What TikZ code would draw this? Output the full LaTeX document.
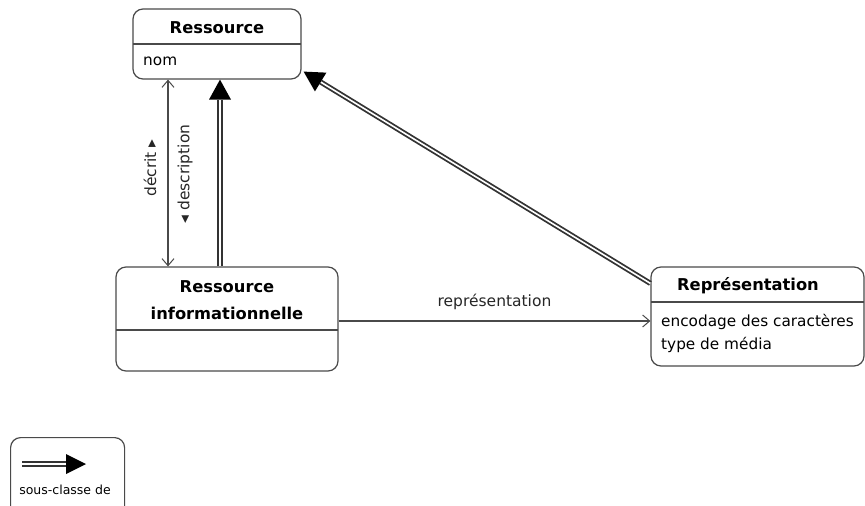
\documentclass[tikz,border=0pt]{standalone}
\usepackage{fontspec}
\setmainfont{DejaVu Sans}
\usetikzlibrary{arrows.meta}
\definecolor{trait}{HTML}{4A4A4A}
\tikzset{
  classe/.style={draw=trait, line width=1.2pt, rounded corners=10pt, fill=white},
  entete/.style={font=\fontsize{16.3}{27}\selectfont\bfseries, align=center, inner sep=0pt},
  attribut/.style={font=\fontsize{15.3}{17}\selectfont, anchor=west, inner sep=0pt},
  sousclasse/.style={draw=black!80, double=white, double distance=1.6pt, line width=1.8pt,
    -{Triangle[length=20pt,width=22pt,fill=black,line width=0pt]}},
  assoc/.style={draw=trait, line width=1.1pt},
  pointe/.tip={Straight Barb[length=7pt,width=12pt,line width=1pt]},
  etiquette/.style={font=\fontsize{15.5}{18}\selectfont, inner sep=0pt, text=black!85}
}
\begin{document}
\begin{tikzpicture}[x=1pt,y=-1pt]
  \useasboundingbox (0,0) rectangle (865,506);
  \clip (0,0) rectangle (865,506);

  % classes
  \node[classe, minimum width=168pt, minimum height=70pt] (ress) at (217,44) {};
  \node[entete] (ressT) at (217,28) {Ressource};
  \draw[trait, line width=1.2pt] (133,44) -- (301,44);
  \node[attribut] (ressA) at (143,61) {nom};

  \node[classe, minimum width=222pt, minimum height=104pt] (rinfo) at (227,319) {};
  \node[entete] (rinfoT) at (227,300) {Ressource\\informationnelle};
  \draw[trait, line width=1.2pt] (116,330) -- (338,330);

  \node[classe, minimum width=213pt, minimum height=99pt] (repr) at (757.5,316.5) {};
  \node[entete] (reprT) at (748,286) {Représentation};
  \draw[trait, line width=1.2pt] (651,302) -- (864,302);
  \node[attribut] (reprA) at (661,322) {encodage des caractères};
  \node[attribut] (reprB) at (661,345) {type de média};

  % liens
  \draw[sousclasse] ([xshift=-7pt]rinfo.north) to ([xshift=-7pt]rinfo.north |- ress.south);
  \draw[sousclasse] ([yshift=-17pt]repr.north west) to ([xshift=2pt,yshift=8pt]ress.south east);
  \draw[assoc, pointe-pointe] ([xshift=-59pt]rinfo.north) to ([xshift=-59pt]rinfo.north |- ress.south);
  \node[etiquette, rotate=90] (decrit) at (150,168) {décrit ▸};
  \node[etiquette, rotate=90] (descr) at (185,174) {◂ description};
  \draw[assoc, -pointe] (rinfo.east |- 0,321) to node[etiquette, above=11pt] {représentation} (repr.west |- 0,321);

  % legende
  \node[classe, minimum width=114pt, minimum height=100pt, anchor=north west] (leg) at (10,437) {};
  \node[font=\fontsize{12.5}{14}\selectfont, inner sep=0pt] (legT) at (65,490) {sous-classe de};
  \coordinate (legA) at (22,464);
  \coordinate (legB) at (86,464);
  \draw[sousclasse, -{Triangle[length=20pt,width=20pt,fill=black,line width=0pt]}] (legA) to (legB);
\end{tikzpicture}
\end{document}
